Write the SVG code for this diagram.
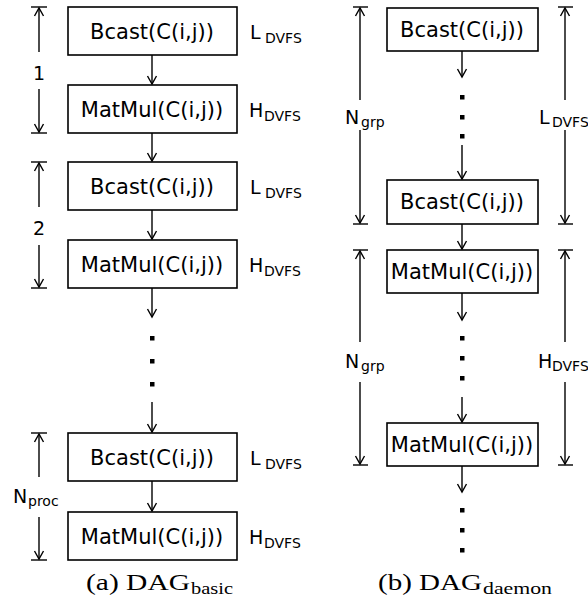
<svg xmlns="http://www.w3.org/2000/svg" width="588" height="606" viewBox="0 0 588 606">
<defs>
<marker id="ah" markerUnits="userSpaceOnUse" markerWidth="12" markerHeight="12" viewBox="0 0 12 12" refX="10" refY="6" orient="auto">
<path d="M2,1.5 L10,6 L2,10.5" fill="none" stroke="#000" stroke-width="1.4"/>
</marker>
</defs>
<style>
.box{fill:#fff;stroke:#000;stroke-width:1.6}
.t{font-family:"DejaVu Sans",sans-serif;font-size:21px;text-anchor:middle;fill:#000}
.lb{font-family:"DejaVu Sans",sans-serif;font-size:19px;fill:#000}
.sb{font-family:"DejaVu Sans",sans-serif;font-size:14px;fill:#000}
.ln{stroke:#000;stroke-width:1.4;fill:none}
.ar{stroke:#000;stroke-width:1.4;fill:none;marker-end:url(#ah)}
.cap{font-family:"Liberation Serif",serif;font-size:23px;fill:#000}
.capsub{font-family:"Liberation Serif",serif;font-size:17px;fill:#000}
</style>
<rect width="588" height="606" fill="#fff"/>

<g id="connectors">
<line class="ar" x1="152" y1="55" x2="152" y2="84"/>
<line class="ar" x1="152" y1="133" x2="152" y2="161"/>
<line class="ar" x1="152" y1="210" x2="152" y2="239"/>
<line class="ar" x1="152" y1="288" x2="152" y2="317"/>
<rect x="150" y="336" width="4.5" height="4.5"/>
<rect x="150" y="359" width="4.5" height="4.5"/>
<rect x="150" y="382" width="4.5" height="4.5"/>
<line class="ar" x1="152" y1="402" x2="152" y2="432"/>
<line class="ar" x1="152" y1="481" x2="152" y2="511"/>

<line class="ar" x1="462" y1="51" x2="462" y2="77"/>
<rect x="460" y="95" width="4.5" height="4.5"/>
<rect x="460" y="115" width="4.5" height="4.5"/>
<rect x="460" y="134" width="4.5" height="4.5"/>
<line class="ar" x1="462" y1="145" x2="462" y2="179"/>
<line class="ar" x1="462" y1="224" x2="462" y2="249"/>
<line class="ar" x1="462" y1="293" x2="462" y2="320"/>
<rect x="460" y="336" width="4.5" height="4.5"/>
<rect x="460" y="356" width="4.5" height="4.5"/>
<rect x="460" y="376" width="4.5" height="4.5"/>
<line class="ar" x1="462" y1="397" x2="462" y2="422"/>
<line class="ar" x1="462" y1="466" x2="462" y2="492"/>
<rect x="460" y="508" width="4.5" height="4.5"/>
<rect x="460" y="528" width="4.5" height="4.5"/>
<rect x="460" y="548" width="4.5" height="4.5"/>
</g>

<g id="dim-a">
<line class="ln" x1="31" y1="7" x2="47" y2="7"/>
<line class="ar" x1="39" y1="52" x2="39" y2="8"/>
<text class="lb" x="39" y="80" text-anchor="middle">1</text>
<line class="ar" x1="39" y1="89" x2="39" y2="132"/>
<line class="ln" x1="31" y1="133" x2="47" y2="133"/>

<line class="ln" x1="31" y1="162" x2="47" y2="162"/>
<line class="ar" x1="39" y1="207" x2="39" y2="163"/>
<text class="lb" x="39" y="235" text-anchor="middle">2</text>
<line class="ar" x1="39" y1="245" x2="39" y2="287"/>
<line class="ln" x1="31" y1="288" x2="47" y2="288"/>

<line class="ln" x1="31" y1="433" x2="47" y2="433"/>
<line class="ar" x1="39" y1="477" x2="39" y2="434"/>
<text class="lb" x="13" y="503">N</text>
<text class="sb" x="28" y="506">proc</text>
<line class="ar" x1="39" y1="517" x2="39" y2="559"/>
<line class="ln" x1="31" y1="560" x2="47" y2="560"/>
</g>

<g id="dim-b">
<line class="ln" x1="353" y1="7" x2="368" y2="7"/>
<line class="ar" x1="360" y1="100" x2="360" y2="8"/>
<text class="lb" x="345" y="124">N</text>
<text class="sb" x="361" y="127">grp</text>
<line class="ar" x1="360" y1="130" x2="360" y2="223"/>
<line class="ln" x1="353" y1="224" x2="368" y2="224"/>

<line class="ln" x1="353" y1="250" x2="368" y2="250"/>
<line class="ar" x1="360" y1="342" x2="360" y2="251"/>
<text class="lb" x="345" y="368">N</text>
<text class="sb" x="361" y="371">grp</text>
<line class="ar" x1="360" y1="382" x2="360" y2="464"/>
<line class="ln" x1="353" y1="465" x2="368" y2="465"/>

<line class="ln" x1="558" y1="7" x2="573" y2="7"/>
<line class="ar" x1="565" y1="100" x2="565" y2="8"/>
<text class="lb" x="539" y="124">L</text>
<text class="sb" x="552" y="127">DVFS</text>
<line class="ar" x1="565" y1="130" x2="565" y2="223"/>
<line class="ln" x1="558" y1="224" x2="573" y2="224"/>

<line class="ln" x1="558" y1="250" x2="573" y2="250"/>
<line class="ar" x1="565" y1="342" x2="565" y2="251"/>
<text class="lb" x="538" y="368">H</text>
<text class="sb" x="552" y="371">DVFS</text>
<line class="ar" x1="565" y1="382" x2="565" y2="464"/>
<line class="ln" x1="558" y1="465" x2="573" y2="465"/>
</g>

<g id="a-b1"><rect class="box" x="68" y="7" width="169" height="48"/><text class="t" x="152" y="39">Bcast(C(i,j))</text></g>
<g id="a-m1"><rect class="box" x="68" y="85" width="169" height="48"/><text class="t" x="152" y="117">MatMul(C(i,j))</text></g>
<g id="a-b2"><rect class="box" x="68" y="162" width="169" height="48"/><text class="t" x="152" y="194">Bcast(C(i,j))</text></g>
<g id="a-m2"><rect class="box" x="68" y="240" width="169" height="48"/><text class="t" x="152" y="272">MatMul(C(i,j))</text></g>
<g id="a-b3"><rect class="box" x="68" y="433" width="169" height="48"/><text class="t" x="152" y="465">Bcast(C(i,j))</text></g>
<g id="a-m3"><rect class="box" x="68" y="512" width="169" height="48"/><text class="t" x="152" y="544">MatMul(C(i,j))</text></g>

<g id="a-labels">
<text class="lb" x="250" y="39">L</text><text class="sb" x="265" y="43">DVFS</text>
<text class="lb" x="249" y="117">H</text><text class="sb" x="264" y="121">DVFS</text>
<text class="lb" x="250" y="194">L</text><text class="sb" x="265" y="198">DVFS</text>
<text class="lb" x="249" y="272">H</text><text class="sb" x="264" y="276">DVFS</text>
<text class="lb" x="250" y="465">L</text><text class="sb" x="265" y="469">DVFS</text>
<text class="lb" x="249" y="544">H</text><text class="sb" x="264" y="548">DVFS</text>
</g>

<g id="b-b1"><rect class="box" x="387" y="8" width="151" height="43"/><text class="t" x="462" y="37">Bcast(C(i,j))</text></g>
<g id="b-b2"><rect class="box" x="387" y="180" width="151" height="44"/><text class="t" x="462" y="209">Bcast(C(i,j))</text></g>
<g id="b-m1"><rect class="box" x="387" y="250" width="151" height="43"/><text class="t" x="462" y="279">MatMul(C(i,j))</text></g>
<g id="b-m2"><rect class="box" x="387" y="423" width="151" height="43"/><text class="t" x="462" y="452">MatMul(C(i,j))</text></g>

<g id="captions">
<text class="cap" x="86" y="590" textLength="104" lengthAdjust="spacingAndGlyphs">(a) DAG</text><text class="capsub" x="191" y="594" textLength="42" lengthAdjust="spacingAndGlyphs">basic</text>
<text class="cap" x="378" y="590" textLength="104" lengthAdjust="spacingAndGlyphs">(b) DAG</text><text class="capsub" x="483" y="594" textLength="69" lengthAdjust="spacingAndGlyphs">daemon</text>
</g>
</svg>
